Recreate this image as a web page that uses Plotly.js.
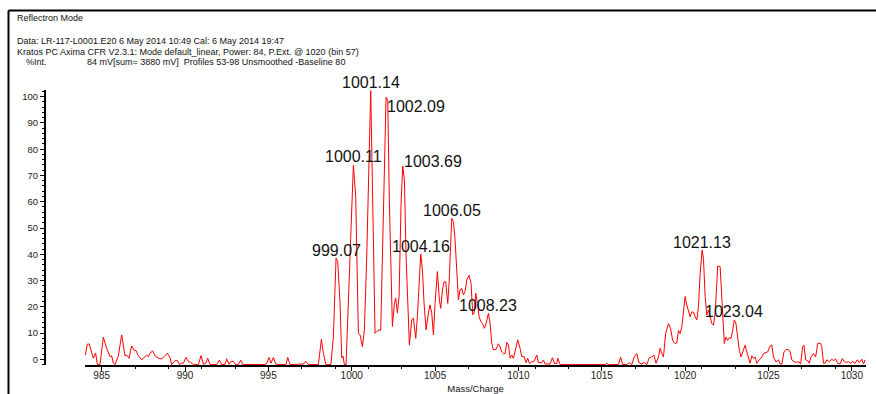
<!DOCTYPE html>
<html>
<head>
<meta charset="utf-8">
<script src="https://cdn.plot.ly/plotly-3.0.1.min.js"></script>
<style>
  html, body { margin: 0; padding: 0; background: #fff; }
  #chart { width: 876px; height: 394px; }
</style>
</head>
<body>
<div id="chart"></div>
<script>
// ---- Data ----
const mz = [
  984.02, 984.14, 984.26, 984.4, 984.5, 984.64, 984.74, 984.9, 985.1, 985.3, 985.5, 985.6, 985.7, 985.8,
  986.0, 986.2, 986.3, 986.4, 986.5, 986.64, 986.8, 986.94, 987.06, 987.2, 987.4, 987.6, 987.7, 987.8,
  987.9, 988.06, 988.2, 988.4, 988.6, 988.74, 988.94, 989.1, 989.2, 989.4, 989.54, 989.66, 989.8, 989.9,
  990.06, 990.2, 990.34, 990.5, 990.8, 990.96, 991.1, 991.24, 991.36, 991.5, 991.9, 992.06, 992.2, 992.4,
  992.5, 992.64, 992.76, 992.9, 993.04, 993.2, 993.34, 993.46, 994.8, 994.9, 995.04, 995.16, 995.3, 995.44,
  995.6, 996.06, 996.16, 996.3, 997.0, 997.1, 997.24, 997.4, 998.0, 998.18, 998.3, 998.45, 998.75, 998.9,
  999.06, 999.16, 999.3, 999.4, 999.48, 999.56, 999.66, 999.9, 1000.1, 1000.24, 1000.4, 1000.5, 1000.64, 1000.76,
  1000.9, 1001.14, 1001.3, 1001.4, 1001.5, 1001.64, 1001.74, 1001.9, 1002.06, 1002.16, 1002.26, 1002.44, 1002.56, 1002.64,
  1002.74, 1002.84, 1002.96, 1003.06, 1003.16, 1003.26, 1003.34, 1003.46, 1003.6, 1003.7, 1003.84, 1003.94, 1004.14, 1004.24,
  1004.34, 1004.46, 1004.6, 1004.7, 1004.8, 1004.9, 1005.0, 1005.14, 1005.26, 1005.34, 1005.44, 1005.54, 1005.64, 1005.76,
  1005.84, 1006.0, 1006.1, 1006.2, 1006.3, 1006.4, 1006.5, 1006.6, 1006.7, 1006.8, 1006.9, 1007.04, 1007.16, 1007.26,
  1007.34, 1007.44, 1007.54, 1007.64, 1007.74, 1007.84, 1007.96, 1008.06, 1008.2, 1008.3, 1008.4, 1008.5, 1008.66, 1008.8,
  1008.9, 1009.0, 1009.1, 1009.2, 1009.3, 1009.4, 1009.5, 1009.6, 1009.7, 1009.82, 1009.96, 1010.1, 1010.2, 1010.34,
  1010.46, 1010.56, 1010.66, 1010.8, 1010.94, 1011.1, 1011.2, 1011.4, 1011.5, 1011.6, 1011.9, 1012.04, 1012.16, 1012.3,
  1012.36, 1012.5, 1015.2, 1015.3, 1015.4, 1016.0, 1016.13, 1016.25, 1016.5, 1016.65, 1016.8, 1016.95, 1017.1, 1017.23,
  1017.4, 1017.53, 1017.7, 1017.85, 1018.0, 1018.13, 1018.25, 1018.4, 1018.5, 1018.6, 1018.7, 1018.83, 1019.0, 1019.13,
  1019.25, 1019.4, 1019.5, 1019.6, 1019.7, 1019.8, 1019.9, 1020.0, 1020.1, 1020.2, 1020.3, 1020.4, 1020.5, 1020.6,
  1020.7, 1020.8, 1020.9, 1021.02, 1021.1, 1021.2, 1021.3, 1021.4, 1021.5, 1021.6, 1021.7, 1021.8, 1021.9, 1021.95,
  1022.1, 1022.2, 1022.3, 1022.35, 1022.45, 1022.55, 1022.65, 1022.75, 1022.85, 1022.95, 1023.05, 1023.15, 1023.25, 1023.35,
  1023.45, 1023.6, 1023.7, 1023.8, 1023.9, 1024.0, 1024.1, 1024.2, 1024.3, 1024.45, 1024.6, 1024.7, 1024.83, 1024.95,
  1025.1, 1025.2, 1025.3, 1025.45, 1025.6, 1025.7, 1025.8, 1025.93, 1026.05, 1026.2, 1026.3, 1026.4, 1026.53, 1026.7,
  1026.83, 1026.93, 1027.05, 1027.13, 1027.23, 1027.35, 1027.45, 1027.55, 1027.7, 1027.83, 1027.95, 1028.1, 1028.2, 1028.3,
  1028.4, 1028.5, 1028.65, 1028.8, 1028.9, 1029.03, 1029.15, 1029.3, 1029.43, 1029.55, 1029.7, 1029.8, 1029.93, 1030.05,
  1030.2, 1030.33, 1030.45, 1030.6, 1030.7, 1030.8
];
const intensity = [
  1.6, 5.8, 5.8, 2.9, 0.4, 2.4, -2, -2, 8.4, 4.2, 1.0, 1.3, -1.5, -2,
  1.3, 9.3, 4.8, 1.3, 1.6, 0.4, 5.1, 3.5, 3.3, 1.3, -0.2, 1.0, 1.6, 1.0,
  2.3, 3.2, 1.3, 0.4, 0.1, 1.0, 2.3, 0.7, -2, -0.5, -0.5, -2, -1.5, -1.5,
  0.7, -0.8, -1.2, -2, -2, 1.4, -1.9, -1.5, 0.4, -2, -2, -0.3, -2, -2,
  0.2, -1.9, -0.8, -0.8, -2, -2, -0.3, -2, -2, -1.5, 0.7, -1.5, 0.7, -1.8,
  -2, -2, 0.7, -2, -2, -1.8, -0.8, -2, -2, 7.6, 2.3, -2, -2, 8.6,
  38.5, 37.2, 21.3, 0.5, 1.2, -2, -2, 37.6, 74.0, 61.9, 9.9, 9.3, 4.8, 11.2,
  39.1, 102.3, 53.1, 9.9, 10.6, 11.2, 11.0, 59.4, 99.8, 98.7, 59.4, 12.5, 21.3, 23.3,
  17.6, 23.9, 59.4, 73.6, 68.3, 39.1, 22.6, 5.4, 15.0, 15.7, 8.0, 16.3, 40.1, 34.0,
  21.3, 11.2, 17.6, 20.7, 17.6, 9.3, 21.3, 33.4, 22.6, 19.4, 26.4, 29.5, 29.5, 21.3,
  28.9, 53.7, 52.4, 45.5, 34.0, 22.6, 26.4, 27.0, 24.5, 25.8, 30.2, 32.0, 28.9, 16.9,
  17.6, 25.1, 21.3, 16.3, 14.4, 13.7, 11.8, 13.7, 17.5, 13.7, 6.1, 3.6, 3.8, 5.9,
  4.8, 2.8, 2.2, 2.2, 6.4, 5.5, 0.4, 1.6, 0.4, 3.6, 7.4, 4.2, 1.0, 1.0,
  -1.3, 0.4, -1.6, -1.0, -0.7, 1.6, -1.3, -1.3, -0.3, -1.8, -1.8, 0.6, -1.6, -1.6,
  0.4, -2, -2, -1.6, -2, -2, 0.8, -2, -2, -1.3, -2, 0.9, 2.2, -1.3,
  -1.8, -1.2, -2, 0.6, 0.9, 1.6, -1.5, 0.9, 4.2, 2.2, 0.9, 9.8, 13.6, 11.7,
  7.2, 6.0, 6.2, 11.0, 9.8, 12.3, 18.0, 23.9, 20.7, 18.8, 16.2, 18.0, 18.0, 16.2,
  15.0, 20.1, 32.7, 41.6, 38.4, 23.9, 16.9, 18.8, 16.2, 13.6, 13.0, 17.5, 28.9, 35.5,
  35.3, 22.6, 9.8, 6.0, 8.5, 7.2, 8.3, 7.9, 11.0, 15.0, 13.5, 8.5, 3.5, 0.9,
  2.8, 5.4, 2.8, 0.9, -1.5, 1.3, 0.3, 0.9, -1.5, -0.2, 0.9, 2.2, 2.4, 2.8,
  5.1, 5.4, 0.9, -1.0, -0.2, -1.8, -1.8, 2.8, 3.7, 3.7, 2.8, -0.2, -0.9, -1.2,
  -0.9, -1.8, 4.8, 5.4, -0.2, -0.5, -1.5, 0.9, 2.2, 0.9, 6.0, 6.2, 4.8, -1.5,
  -1.5, -0.2, -0.9, 0, -0.5, 0.1, -1.5, -1.8, 0.3, -0.9, -1.2, -0.9, -1.5, -0.9,
  -1.5, -0.2, -1.2, 0, -1.8, -0.2
];

// Peak labels (text, anchor mass, anchor intensity)
const peakText = ['999.07', '1000.11', '1001.14', '1002.09', '1003.69', '1004.16', '1006.05', '1008.23', '1021.13', '1023.04'];
const peakMz   = [999.06, 1000.1, 1001.14, 1002.06, 1003.06, 1004.14, 1006.0, 1008.2, 1021.02, 1022.95];
const peakInt  = [38.5, 74.0, 102.3, 99.8, 73.6, 40.1, 53.7, 17.5, 41.6, 15.0];

// Axis ticks
const xTickVals = [985, 990, 995, 1000, 1005, 1010, 1015, 1020, 1025, 1030];
const yTickVals = [0, 10, 20, 30, 40, 50, 60, 70, 80, 90, 100];

// Header texts
const headerLines = [
  'Reflectron Mode',
  'Data: LR-117-L0001.E20 6 May 2014 10:49 Cal: 6 May 2014 19:47',
  'Kratos PC Axima CFR V2.3.1: Mode default_linear, Power: 84, P.Ext. @ 1020 (bin 57)',
  '%Int.',
  '84 mV[sum= 3880 mV]\u00a0 Profiles 53-98 Unsmoothed -Baseline 80'
];

// ---- Layout helpers (pixel -> paper) ----
const W = 876, H = 394;
const px = v => v / W;
const py = v => (H - v) / H;
const FONT = 'Liberation Sans, Arial, Helvetica, sans-serif';

const headerPos = [[15, 18.5], [15, 40.5], [15, 51.5], [24, 62.5], [84.5, 62.5]];
const headerAnn = headerLines.map((t, i) => ({
  text: t, xref: 'paper', yref: 'paper', x: px(headerPos[i][0]), y: py(headerPos[i][1]),
  xanchor: 'left', yanchor: 'middle', showarrow: false,
  font: { family: FONT, size: 9, color: '#111' }
}));

const peakStyle = peakText.map(t => ({ xanchor: 'center', xshift: 0, yshift: 8 }));
peakStyle[3] = { xanchor: 'left', xshift: -1, yshift: -9 };
peakStyle[4] = { xanchor: 'left', xshift: -1, yshift: 5 };

const peakAnn = peakText.map((t, i) => ({
  text: t, xref: 'x', yref: 'y', x: peakMz[i], y: peakInt[i],
  xanchor: peakStyle[i].xanchor, yanchor: 'middle',
  xshift: peakStyle[i].xshift, yshift: peakStyle[i].yshift,
  showarrow: false, font: { family: FONT, size: 16, color: '#111' }
}));

const yTop = 90, yBot = 365;        // pixel extent of y axis
const yPerPx = 2.626;               // pixels per intensity unit
const zeroPx = 359.3;

const layout = {
  width: W, height: H,
  margin: { l: 0, r: 0, t: 0, b: 0 },
  paper_bgcolor: '#fff', plot_bgcolor: '#fff',
  showlegend: false,
  font: { family: FONT, color: '#111' },
  xaxis: {
    domain: [px(85), px(866)],
    range: [984.0, 1030.85],
    tickmode: 'array', tickvals: xTickVals,
    ticks: 'outside', ticklen: 4, tickwidth: 1, tickcolor: '#000',
    ticklabelstandoff: -4,
    minor: { dtick: 2, tick0: 985, ticks: 'outside', ticklen: 2.5, tickcolor: '#000', tickwidth: 1 },
    showline: true, linecolor: '#000', linewidth: 1.5,
    showgrid: false, zeroline: false,
    tickfont: { family: FONT, size: 10, color: '#222' },
    title: { text: 'Mass/Charge', font: { family: FONT, size: 9.5, color: '#111' }, standoff: 7 }
  },
  yaxis: {
    domain: [py(yBot), py(yTop)],
    range: [(zeroPx - yBot) / yPerPx, (zeroPx - yTop) / yPerPx],
    anchor: 'free', position: px(44),
    tickmode: 'array', tickvals: yTickVals,
    ticks: 'outside', ticklen: 4, tickwidth: 1, tickcolor: '#000',
    minor: { dtick: 2, tick0: 0, ticks: 'outside', ticklen: 2, tickcolor: '#000', tickwidth: 1 },
    showline: true, linecolor: '#000', linewidth: 1.5,
    showgrid: false, zeroline: false,
    tickfont: { family: FONT, size: 9.5, color: '#222' }
  },
  shapes: [
    { type: 'line', xref: 'paper', yref: 'paper', x0: px(8.5), x1: 1.01, y0: py(10.5), y1: py(10.5), line: { color: '#000', width: 2 } },
    { type: 'line', xref: 'paper', yref: 'paper', x0: px(8.5), x1: px(8.5), y0: py(10.5), y1: -0.01, line: { color: '#000', width: 2 } }
  ],
  annotations: headerAnn.concat(peakAnn)
};

const trace = {
  type: 'scatter', mode: 'lines',
  x: mz, y: intensity,
  line: { color: '#ff0000', width: 1 },
  hoverinfo: 'skip'
};

Plotly.newPlot('chart', [trace], layout, { displayModeBar: false, staticPlot: true });
</script>
</body>
</html>
